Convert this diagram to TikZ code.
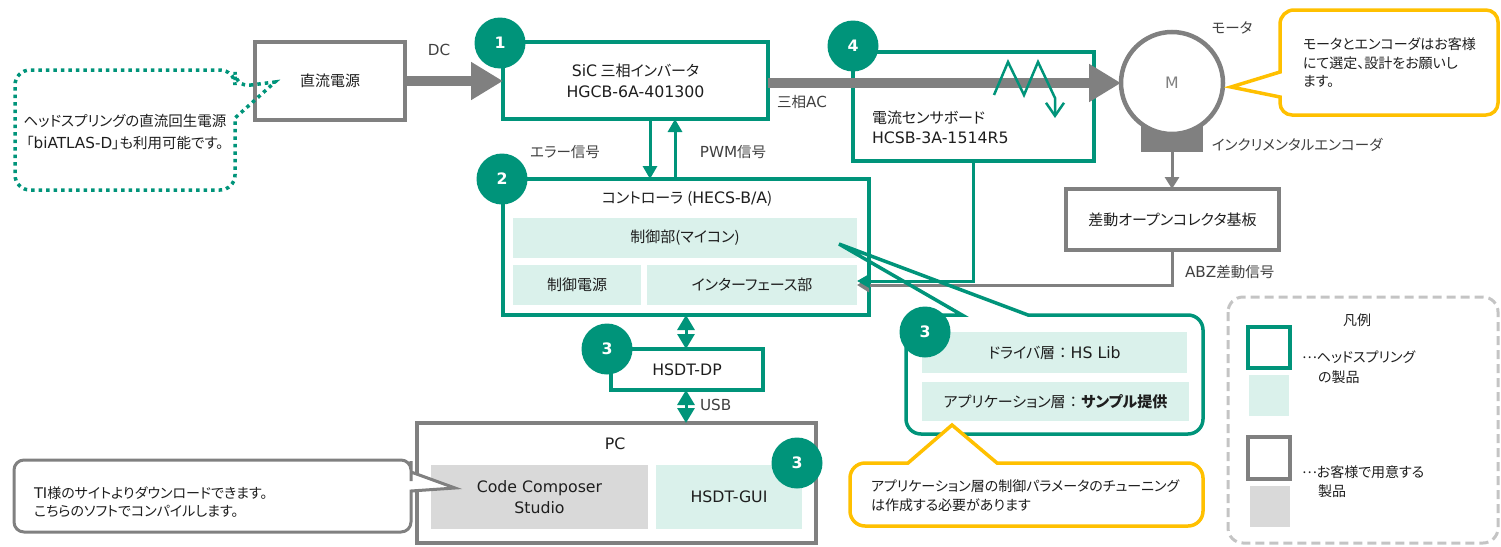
\documentclass[tikz,border=0pt]{standalone}
\usepackage{fontspec}
\setmainfont{Noto Sans CJK JP}[RawFeature={+palt}]
\newfontfamily\lat{DejaVu Sans}[Scale=1.05]
\usetikzlibrary{arrows.meta}
\definecolor{teal1}{RGB}{0,148,122}
\definecolor{lteal}{RGB}{218,241,235}
\definecolor{gray1}{RGB}{128,128,128}
\definecolor{lgray}{RGB}{217,217,217}
\definecolor{lgray2}{RGB}{196,196,196}
\definecolor{yel}{RGB}{255,192,0}
\definecolor{txt}{RGB}{30,30,30}
\definecolor{lbltxt}{RGB}{64,64,64}
\newcommand{\midell}{\raisebox{4pt}{…}}
\newcommand{\jcolon}{\hspace{4pt}：\hspace{4pt}}
\begin{document}
\begin{tikzpicture}[x=1pt,y=-1pt,
  every node/.style={inner sep=0pt, outer sep=0pt},
  font=\fontsize{15}{21}\selectfont, text=txt,
  tbox/.style={draw=teal1, line width=3.5pt, fill=white, align=center},
  gbox/.style={draw=gray1, line width=4pt, fill=white, align=center},
  lfill/.style={fill=lteal, align=center},
  gfill/.style={fill=lgray, align=center},
  num/.style={circle, fill=teal1, text=white, minimum size=51pt, font=\lat\bfseries\fontsize{15}{15}\selectfont},
  lbl/.style={text=lbltxt, font=\fontsize{14.5}{19}\selectfont},
  note/.style={font=\fontsize{14}{19}\selectfont, align=left},
  tarrow/.style={draw=teal1, line width=3pt, -{Triangle[length=13pt,width=14pt]}},
  garrow/.style={draw=gray1, line width=3pt, -{Triangle[length=12pt,width=14pt]}},
  dblarrow/.style={draw=teal1, line width=3pt, {Triangle[length=15pt,width=17pt]}-{Triangle[length=15pt,width=17pt]}},
  bigarrow/.style={draw=gray1, line width=10pt, -{Triangle[length=32pt,width=36pt]}}]
\useasboundingbox (0,0) rectangle (1501,546);

% ---------- boxes ----------
\node[gbox, minimum width=150pt, minimum height=78pt] (dc) at (330,81) {直流電源};
\node[tbox, minimum width=265pt, minimum height=77pt] (inv) at (635.5,80.5) {{\lat SiC} 三相インバータ\\{\lat HGCB-6A-401300}};
\node[tbox, minimum width=241pt, minimum height=109pt] (sens) at (973.5,106.5) {};
\node[anchor=west, align=left, font=\fontsize{15}{20}\selectfont] (senstxt) at (872,127) {電流センサボード\\{\lat HCSB-3A-1514R5}};

\node[tbox, minimum width=366pt, minimum height=136pt] (ctrl) at (686,247) {};
\node (ctrlt) at (687,199) {コントローラ\hspace{4pt}({\lat HECS-B/A})};
\node[lfill, minimum width=344pt, minimum height=40pt] (mcu) at (685,238) {制御部(マイコン)};
\node[lfill, minimum width=128pt, minimum height=40pt] (pwr) at (577,285) {制御電源};
\node[lfill, minimum width=210pt, minimum height=40pt] (ifc) at (752,285) {インターフェース部};

\node[tbox, minimum width=152pt, minimum height=41pt] (dp) at (687,369.5) {{\lat HSDT-DP}};

\node[gbox, minimum width=399pt, minimum height=120pt] (pc) at (616.5,483) {};
\node (pct) at (615,444) {{\lat PC}};
\node[gfill, minimum width=217pt, minimum height=64pt] (ccs) at (539.5,497) {{\lat Code Composer}\\{\lat Studio}};
\node[lfill, minimum width=146pt, minimum height=64pt] (gui) at (729,497) {{\lat HSDT-GUI}};

\node[gbox, minimum width=213pt, minimum height=61pt] (diff) at (1172.5,219.5) {差動オープンコレクタ基板};

\node[fill=gray1, minimum width=62pt, minimum height=32pt] (enc) at (1172,136) {};
\node[circle, draw=gray1, line width=4.5pt, fill=white, minimum size=102pt, text=gray1] (motor) at (1172,83) {{\lat M}};

% ---------- dotted callout ----------
\draw[teal1, line width=3.5pt, dash pattern=on 3.5pt off 4pt] (235,87) -- (275,82) -- (235,118) [rounded corners=15pt] -- (235,190) -- (15,190) -- (15,70) -- (235,70) -- cycle;
\node[note, align=center, font=\fontsize{14.5}{22}\selectfont] (dcnote) at (125,132) {ヘッドスプリングの直流回生電源\\「{\lat biATLAS-D}」も利用可能です。};

% ---------- labels ----------
\node[lbl] (ldc) at (439,50) {{\lat DC}};
\node[lbl] (lac) at (802,102) {三相{\lat AC}};
\node[lbl] (lerr) at (565,152) {エラー信号};
\node[lbl] (lpwm) at (733,152) {{\lat PWM}信号};
\node[lbl] (lmot) at (1232,28) {モータ};
\node[lbl, anchor=west] (lenc) at (1212,145) {インクリメンタルエンコーダ};
\node[lbl, anchor=west] (labz) at (1185,272) {{\lat ABZ}差動信号};
\node[lbl, anchor=west] (lusb) at (700,405) {{\lat USB}};

% ---------- connectors ----------
\draw[bigarrow] (dc.east) -- (dc.east -| inv.west);
\draw[bigarrow] (inv.east |- motor.west) -- (motor.west);
\draw[teal1, line width=2.5pt, -{Straight Barb[length=13pt,width=18pt]}] (994,95) -- (1008,62) -- (1024,95) -- (1038,62) -- (1055,98) -- (1055,118);

\coordinate (e1) at ([xshift=14.5pt]inv.south);
\coordinate (p1) at ([xshift=39.5pt]inv.south);
\draw[tarrow] (e1) -- (e1 |- ctrl.north);
\draw[tarrow] (p1 |- ctrl.north) -- (p1);

\draw[dblarrow] (ctrl.south) -- (ctrl.south |- dp.north);
\draw[dblarrow] (ctrl.south |- dp.south) -- (ctrl.south |- pc.north);

\draw[garrow] (enc.south) -- (enc.south |- diff.north);
\draw[garrow] (diff.south) |- (ifc.east);
\draw[tarrow] (sens.south) |- ([yshift=4pt]ifc.east);

% ---------- driver callout ----------
\draw[teal1, line width=3.5pt] (906,380) [rounded corners=15pt] -- (906,315) -- (940,315) [sharp corners] -- (962,315) -- (839,244) -- (1028,315) -- (1100,315) [rounded corners=15pt] -- (1203,315) -- (1203,434) -- (906,434) -- cycle;
\node[lfill, minimum width=265pt, minimum height=41pt] (drv) at (1054.5,352.5) {ドライバ層\jcolon{\lat HS Lib}};
\node[lfill, minimum width=267pt, minimum height=39pt] (app) at (1055.5,401.5) {アプリケーション層\jcolon\textbf{サンプル提供}};

% ---------- yellow callouts ----------
\draw[yel, line width=3.5pt, fill=white] (850,495) [rounded corners=15pt] -- (850,463) -- (880,463) [sharp corners] -- (908,463) -- (952,425) -- (997,463) -- (1050,463) [rounded corners=15pt] -- (1203,463) -- (1203,526) -- (850,526) -- cycle;
\node[note, anchor=west] (ynote) at (871,495.5) {アプリケーション層の制御パラメータのチューニング\\は作成する必要があります};

\draw[yel, line width=3.5pt, fill=white] (1390,10) [rounded corners=14pt] -- (1280,10) -- (1280,50) [sharp corners] -- (1280,72) -- (1231,87) -- (1280,97) -- (1280,99) [rounded corners=12pt] -- (1280,115) -- (1498,115) -- (1498,10) -- cycle;
\node[note, anchor=west, font=\fontsize{14}{18.5}\selectfont] (mnote) at (1303,63) {モータとエンコーダはお客様\\にて選定、設計をお願いし\\ます。};

% ---------- TI callout ----------
\draw[gray1, line width=3pt, fill=white] (200,460) [rounded corners=10pt] -- (411,460) -- (411,471) [sharp corners] -- (411,472) -- (455,488) -- (411,491) -- (411,492) [rounded corners=10pt] -- (411,532) -- (14,532) -- (14,460) -- cycle;
\node[note, anchor=west, font=\fontsize{14}{18}\selectfont] (tinote) at (34,502) {{\lat TI}様のサイトよりダウンロードできます。\\こちらのソフトでコンパイルします。};

% ---------- legend ----------
\draw[lgray2, line width=3pt, dash pattern=on 9pt off 5pt, rounded corners=15pt] (1228,297) rectangle (1498,543);
\node[font=\fontsize{14}{19}\selectfont] (leg) at (1357,320) {凡例};
\node[draw=teal1, line width=3.5pt, minimum width=42pt, minimum height=41pt] (legt) at (1269,347.5) {};
\node[fill=lteal, minimum width=40pt, minimum height=41pt] (legtf) at (1269,395.5) {};
\node[draw=gray1, line width=4pt, minimum width=42pt, minimum height=42pt] (legg) at (1269,458) {};
\node[fill=lgray, minimum width=40pt, minimum height=41pt] (leggf) at (1269.5,506.5) {};
\node[note, anchor=west] (legt1) at (1302,357) {\midell ヘッドスプリング};
\node[note, anchor=west] (legt2) at (1318,377) {の製品};
\node[note, anchor=west] (legg1) at (1302,472) {\midell お客様で用意する};
\node[note, anchor=west] (legg2) at (1318,491) {製品};

% ---------- numbered badges ----------
\node[num] (n1) at (500,43) {1};
\node[num] (n2) at (502,179) {2};
\node[num] (n3a) at (607,349) {3};
\node[num] (n3b) at (925,332) {3};
\node[num] (n3c) at (797,463) {3};
\node[num] (n4) at (853,46) {4};
\end{tikzpicture}
\end{document}
